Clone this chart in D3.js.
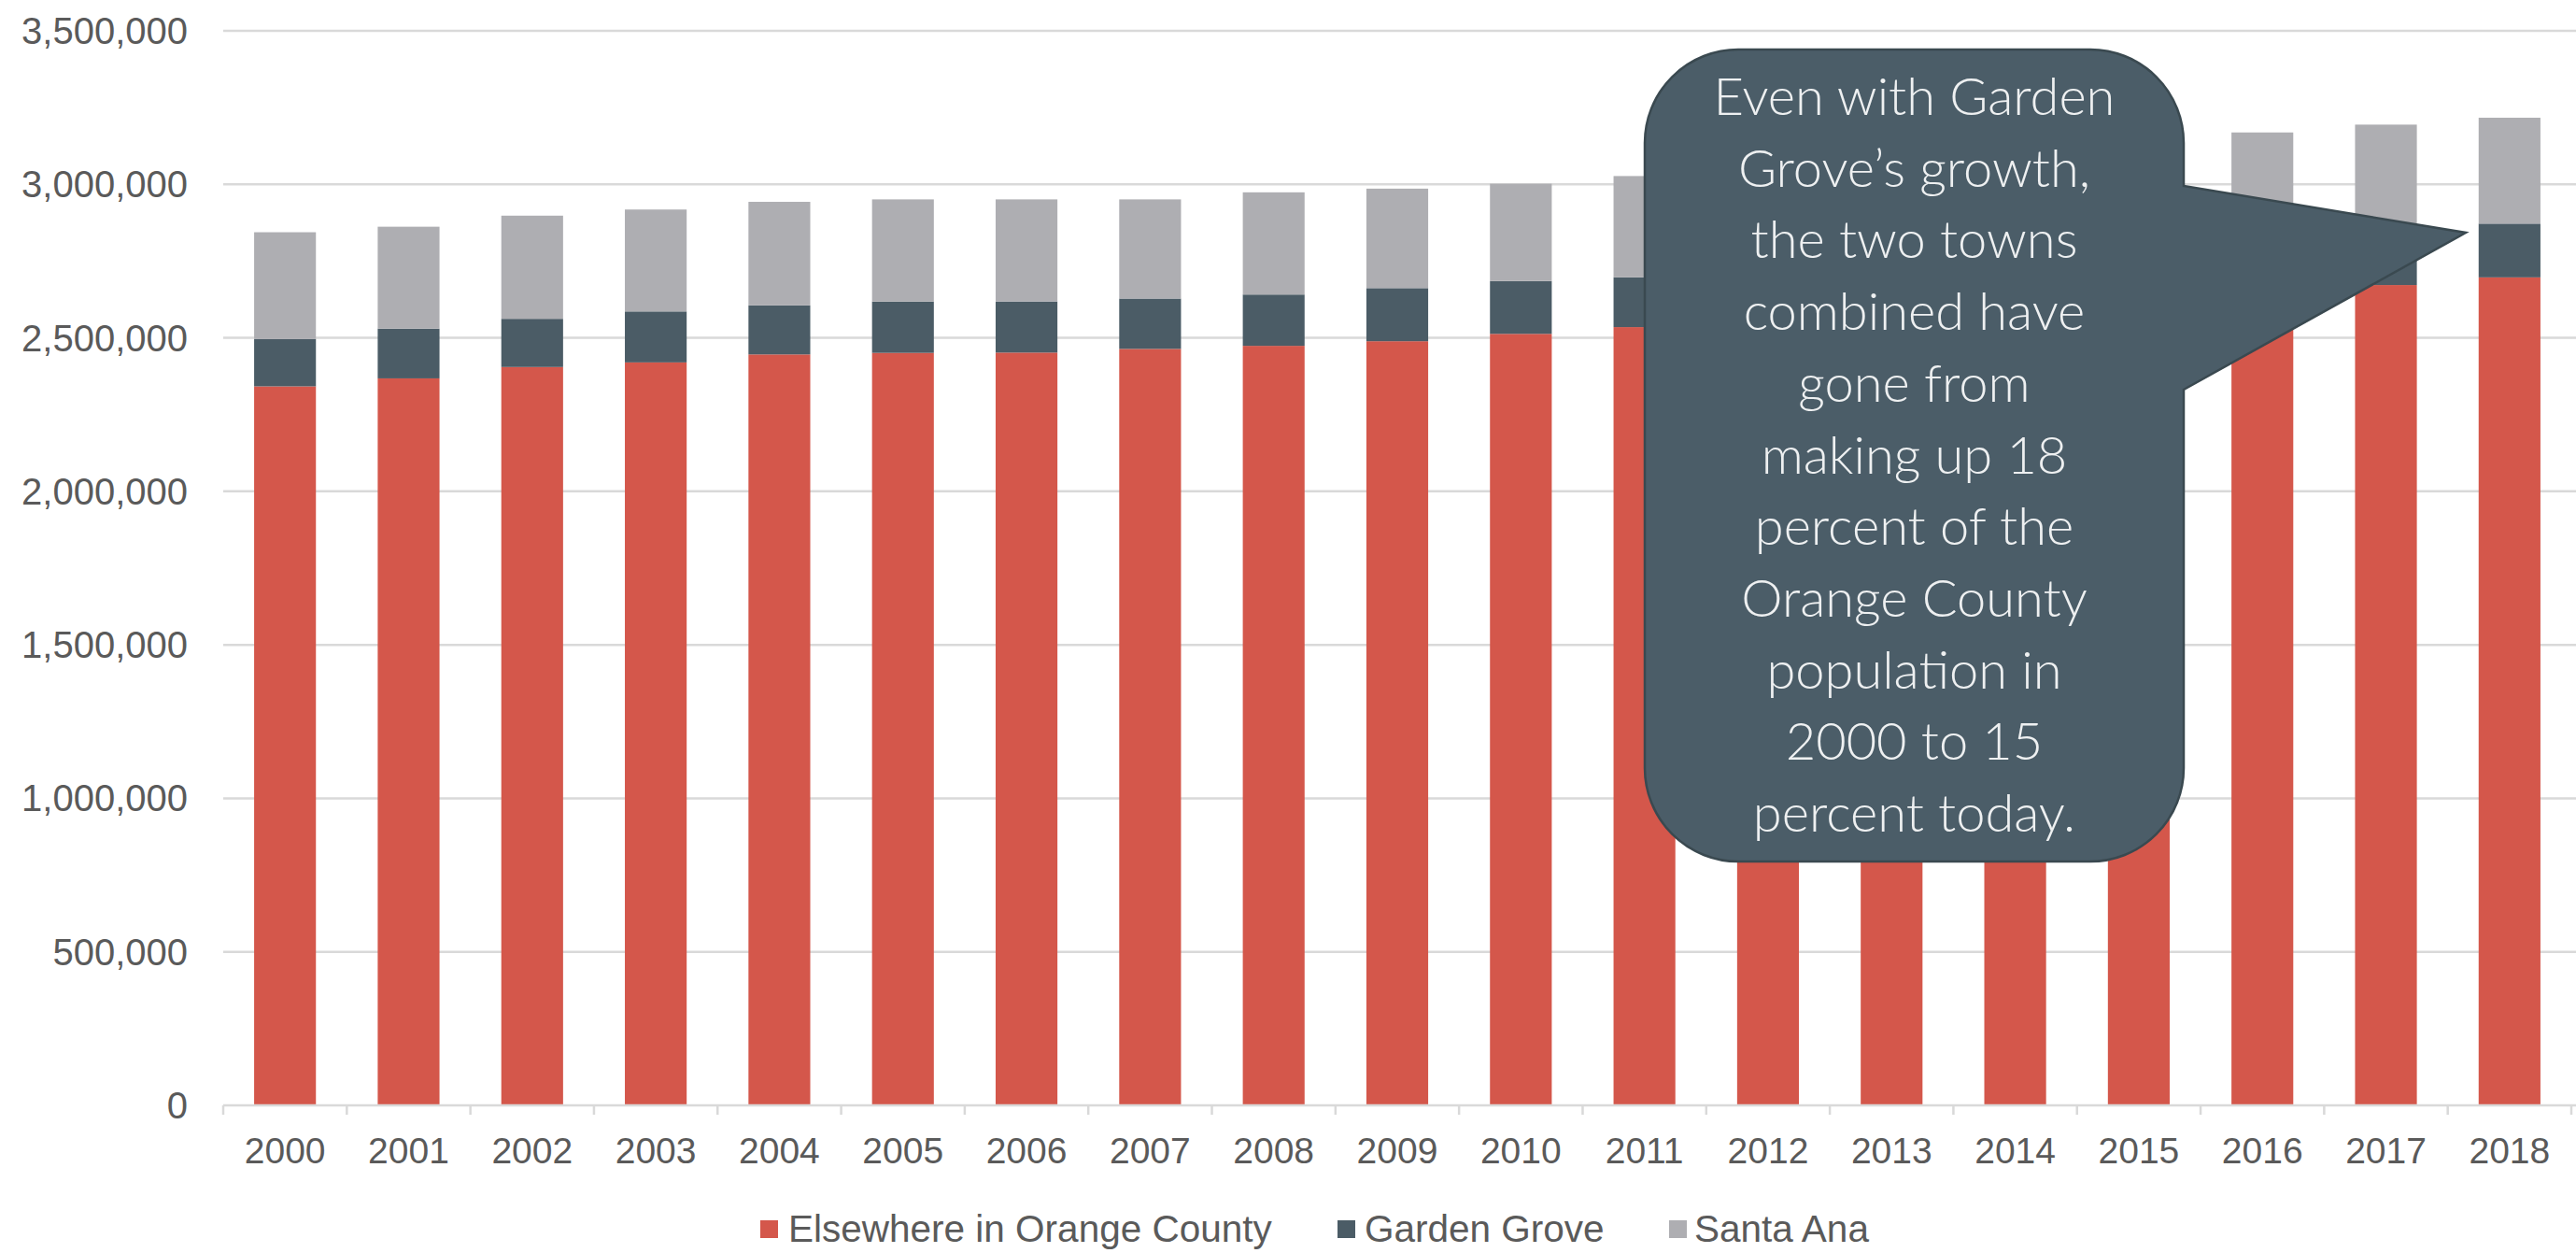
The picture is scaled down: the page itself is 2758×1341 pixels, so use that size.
<!DOCTYPE html>
<html>
<head>
<meta charset="utf-8">
<script src="https://cdn.jsdelivr.net/npm/d3@7"></script>
<style>
  html, body { margin: 0; padding: 0; background: #ffffff; }
  svg { display: block; }
</style>
</head>
<body>
<script>
// ---- Data ----
const years = ["2000","2001","2002","2003","2004","2005","2006","2007","2008","2009",
               "2010","2011","2012","2013","2014","2015","2016","2017","2018"];
const elsewhere = [2342000, 2368000, 2405000, 2420000, 2446000, 2451000, 2452000, 2464000, 2474000, 2489000,
                   2513000, 2535000, 2560000, 2585000, 2610000, 2632000, 2650000, 2672000, 2697000];
const gardenGrove = [154000, 162000, 157000, 166000, 160000, 167000, 166500, 164000, 167000, 173000,
                     172000, 162000, 172000, 173000, 174000, 175000, 176000, 176000, 175000];
const santaAna = [348000, 332000, 336000, 332000, 337000, 333000, 332500, 323000, 333000, 324000,
                  317000, 330000, 330000, 332000, 334000, 336000, 343000, 346500, 345000];
const seriesNames = ["Elsewhere in Orange County", "Garden Grove", "Santa Ana"];
const seriesColors = ["#d4574b", "#4b5c66", "#aeaeb2"];
const yTicks = [0, 500000, 1000000, 1500000, 2000000, 2500000, 3000000, 3500000];
const calloutLines = ["Even with Garden", "Grove\u2019s growth,", "the two towns", "combined have",
                      "gone from", "making up 18", "percent of the", "Orange County",
                      "population in", "2000 to 15", "percent today."];

// ---- Layout ----
const W = 2758, H = 1341;
const plot = { left: 239, right: 2753, top: 33, bottom: 1183 };
const textColor = "#5a5a5a";
const gridColor = "#d9d9d9";
const fontAxis = "'Liberation Sans', Arial, sans-serif";

const svg = d3.select("body").append("svg")
  .attr("width", W).attr("height", H)
  .attr("viewBox", `0 0 ${W} ${H}`);
svg.append("rect").attr("width", W).attr("height", H).attr("fill", "#ffffff");

const x = d3.scaleBand().domain(years).range([plot.left, plot.right])
  .paddingInner(0.5).paddingOuter(0.25);
const y = d3.scaleLinear().domain([0, 3500000]).range([plot.bottom, plot.top]);

// Gridlines
svg.append("g").selectAll("line").data(yTicks.filter(d => d > 0)).join("line")
  .attr("x1", plot.left).attr("x2", W)
  .attr("y1", d => y(d)).attr("y2", d => y(d))
  .attr("stroke", gridColor).attr("stroke-width", 2.5);

// Y axis labels
const fmt = d3.format(",");
svg.append("g").selectAll("text").data(yTicks).join("text")
  .attr("x", 201).attr("y", d => y(d) + 14)
  .attr("text-anchor", "end")
  .attr("font-family", fontAxis).attr("font-size", 40)
  .attr("fill", textColor)
  .text(d => fmt(d));

// Stacked data
const table = years.map((yr, i) => ({
  year: yr,
  [seriesNames[0]]: elsewhere[i],
  [seriesNames[1]]: gardenGrove[i],
  [seriesNames[2]]: santaAna[i]
}));
const stacked = d3.stack().keys(seriesNames)(table);

svg.append("g").selectAll("g").data(stacked).join("g")
  .attr("fill", (d, i) => seriesColors[i])
  .selectAll("rect").data(d => d).join("rect")
  .attr("x", d => x(d.data.year))
  .attr("width", x.bandwidth())
  .attr("y", d => y(d[1]))
  .attr("height", d => y(d[0]) - y(d[1]));

// X axis baseline and category ticks
svg.append("line")
  .attr("x1", plot.left).attr("x2", W)
  .attr("y1", plot.bottom).attr("y2", plot.bottom)
  .attr("stroke", gridColor).attr("stroke-width", 2.5);
const step = x.step();
const boundaries = years.map(yr => x(yr) - step * 0.25).concat([x(years[years.length - 1]) + x.bandwidth() + step * 0.25]);
svg.append("g").selectAll("line").data(boundaries).join("line")
  .attr("x1", d => d).attr("x2", d => d)
  .attr("y1", plot.bottom).attr("y2", plot.bottom + 10)
  .attr("stroke", gridColor).attr("stroke-width", 2.5);

svg.append("g").selectAll("text").data(years).join("text")
  .attr("x", d => x(d) + x.bandwidth() / 2)
  .attr("y", 1245)
  .attr("text-anchor", "middle")
  .attr("font-family", fontAxis).attr("font-size", 39)
  .attr("fill", textColor)
  .text(d => d);

// Legend
const legendItems = [
  { sq: 814, tx: 844 },
  { sq: 1432, tx: 1461 },
  { sq: 1787, tx: 1814 }
];
const lg = svg.append("g");
seriesNames.forEach((name, i) => {
  lg.append("rect").attr("x", legendItems[i].sq).attr("y", 1306)
    .attr("width", 19).attr("height", 19).attr("fill", seriesColors[i]);
  lg.append("text").attr("x", legendItems[i].tx).attr("y", 1329)
    .attr("font-family", fontAxis).attr("font-size", 40.5)
    .attr("fill", textColor).text(name);
});

// Callout bubble
const bx0 = 1761, by0 = 53, bx1 = 2338, by1 = 922, r = 100;
const tipTop = 199, tipX = 2640, tipY = 249, tipBottom = 417;
const p = d3.path();
p.moveTo(bx0 + r, by0);
p.lineTo(bx1 - r, by0);
p.arcTo(bx1, by0, bx1, by0 + r, r);
p.lineTo(bx1, tipTop);
p.lineTo(tipX, tipY);
p.lineTo(bx1, tipBottom);
p.lineTo(bx1, by1 - r);
p.arcTo(bx1, by1, bx1 - r, by1, r);
p.lineTo(bx0 + r, by1);
p.arcTo(bx0, by1, bx0, by1 - r, r);
p.lineTo(bx0, by0 + r);
p.arcTo(bx0, by0, bx0 + r, by0, r);
p.closePath();
svg.append("path").attr("d", p.toString())
  .attr("fill", "#4b5d68").attr("stroke", "#3a4950").attr("stroke-width", 2.5)
  .attr("stroke-linejoin", "miter");

svg.append("g").selectAll("text").data(calloutLines).join("text")
  .attr("x", (bx0 + bx1) / 2)
  .attr("y", (d, i) => 123 + i * 76.7)
  .attr("text-anchor", "middle")
  .attr("font-family", "Lato, 'Open Sans', sans-serif")
  .attr("font-weight", 300)
  .attr("font-size", 56)
  .attr("fill", "#eef0f1")
  .text(d => d);
</script>
</body>
</html>
